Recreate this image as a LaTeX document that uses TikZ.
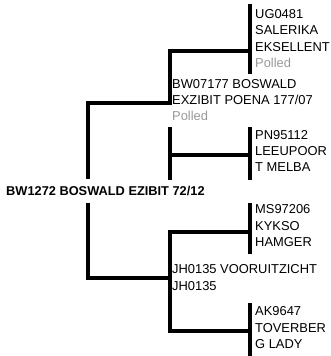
\documentclass[tikz,border=0pt]{standalone}
\usepackage{fontspec}
\setmainfont{Liberation Sans}
\definecolor{polledgray}{HTML}{999999}
\tikzset{
  bar/.style={line width=3.4pt, draw=black},
  lbl/.style={anchor=base west, inner sep=0pt, font=\fontsize{12.9}{15}\selectfont, text=black},
  pol/.style={lbl, text=polledgray},
  rootlbl/.style={lbl, font=\fontsize{12.8}{15}\selectfont\bfseries},
}
\begin{document}
\begin{tikzpicture}[x=1pt,y=-1pt]
\useasboundingbox (0,0) rectangle (330,356);
% texts
\node[lbl] (ug1) at (255,18) {UG0481};
\node[lbl] (ug2) at (255,34.5) {SALERIKA};
\node[lbl] (ug3) at (255,51) {EKSELLENT};
\node[pol] (ug4) at (255,67.5) {Polled};
\node[lbl] (bw1) at (172,88.5) {BW07177 BOSWALD};
\node[lbl] (bw2) at (172,104.5) {EXZIBIT POENA 177/07};
\node[pol] (bw3) at (172,120.5) {Polled};
\node[lbl] (pn1) at (255,139.5) {PN95112};
\node[lbl] (pn2) at (255,155.5) {LEEUPOOR};
\node[lbl] (pn3) at (255,171.5) {T MELBA};
\node[rootlbl] (root) at (6,195.5) {BW1272 BOSWALD EZIBIT 72/12};
\node[lbl] (ms1) at (255,213.5) {MS97206};
\node[lbl] (ms2) at (255,230) {KYKSO};
\node[lbl] (ms3) at (255,246.5) {HAMGER};
\node[lbl] (jh1) at (172,273.5) {JH0135 VOORUITZICHT};
\node[lbl] (jh2) at (172,290) {JH0135};
\node[lbl] (ak1) at (255,315.5) {AK9647};
\node[lbl] (ak2) at (255,332) {TOVERBER};
\node[lbl] (ak3) at (255,348.5) {G LADY};
% line end points
\coordinate (ugT) at (250,4);   \coordinate (ugB) at (250,74);
\coordinate (ugJ) at (250,51);  \coordinate (sTop) at (170,105);
\coordinate (sJ) at (170,103);  \coordinate (rTop) at (88,179);
\coordinate (sLT) at (170,127); \coordinate (sLB) at (170,180);
\coordinate (pnL) at (170,155); \coordinate (pnJ) at (250,155);
\coordinate (pnT) at (250,127); \coordinate (pnB) at (250,180);
\coordinate (rBot) at (88,203); \coordinate (dJ) at (170,278);
\coordinate (msT) at (250,203); \coordinate (msB) at (250,254);
\coordinate (msJ) at (250,232); \coordinate (akJ) at (250,331);
\coordinate (dB) at (170,331);
\coordinate (akT) at (250,303); \coordinate (akB) at (250,358);
% lines
\draw[bar] (ugT) -- (ugB);
\draw[bar] (ugJ) -| (sTop);
\draw[bar] (sJ) -| (rTop);
\draw[bar] (sLT) -- (sLB);
\draw[bar] (pnL) -- (pnJ);
\draw[bar] (pnT) -- (pnB);
\draw[bar] (rBot) |- (dJ);
\draw[bar] (msT) -- (msB);
\draw[bar] (msJ) -| (dB) -- (akJ);
\draw[bar] (akT) -- (akB);
\end{tikzpicture}
\end{document}
